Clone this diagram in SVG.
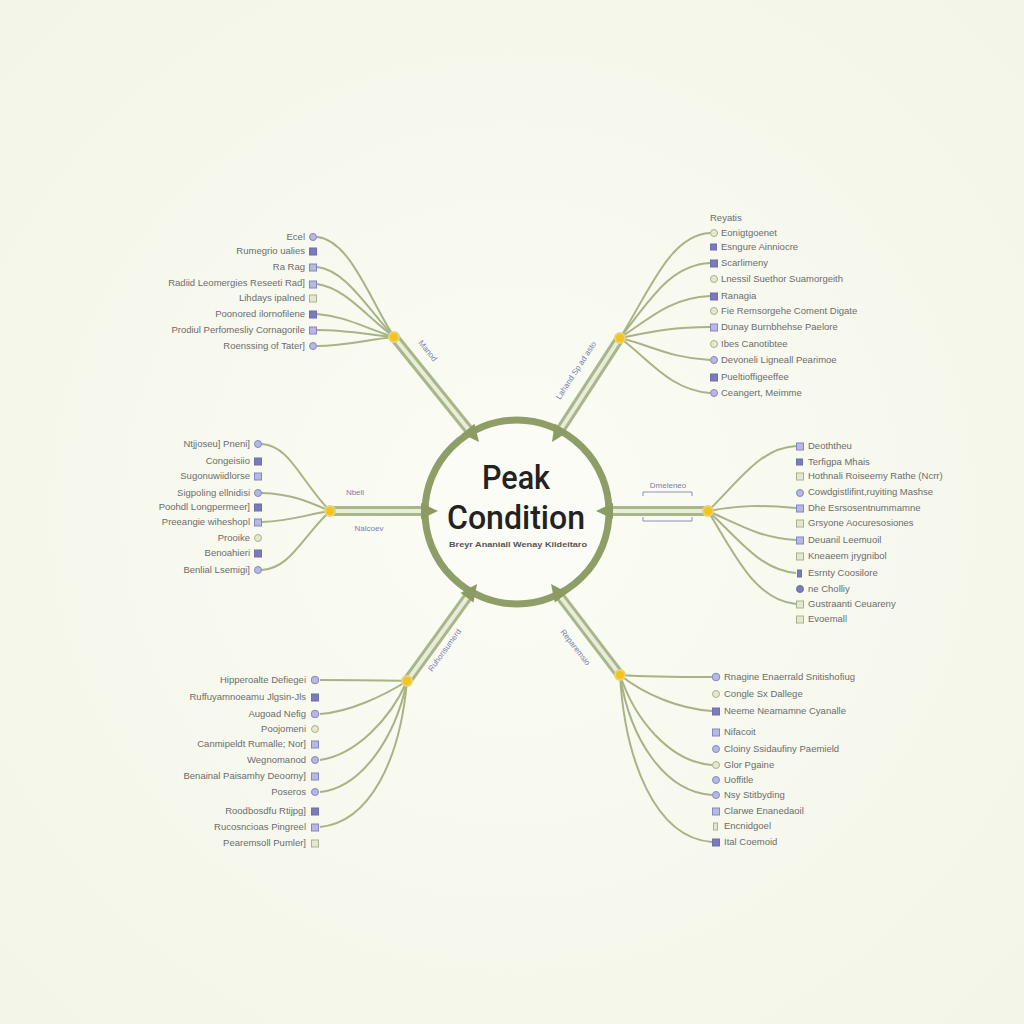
<svg xmlns="http://www.w3.org/2000/svg" xmlns:xlink="http://www.w3.org/1999/xlink" width="1024" height="1024" viewBox="0 0 1024 1024">
<defs>
<radialGradient id="bg" cx="50%" cy="50%" r="70%">
<stop offset="0" stop-color="#fbfcf4"/>
<stop offset="1" stop-color="#f3f5e8"/>
</radialGradient>
<polygon id="ah" points="0,0 -17,-8 -17,8" fill="#8c9b62"/>
</defs>
<style>
.leaf{font-family:"Liberation Sans",Arial,sans-serif;font-size:9.5px;fill:#6c6c6c}
.r{text-anchor:end}
.ic{fill:#b9b8e0;stroke:#8786c4;stroke-width:1}
.icd{fill:#7c7bb8;stroke:#6f6eae;stroke-width:1}
.icl{fill:#e4e8d0;stroke:#a9b38a;stroke-width:1}
.cv{fill:none;stroke:#a8b387;stroke-width:2}
.band{fill:none;stroke:#a9b689;stroke-width:10;stroke-linecap:butt}
.bandin{fill:none;stroke:#e8ecd8;stroke-width:4}
.hub{fill:#f2c51d;stroke:#e8d27a;stroke-width:2}
.sl{font-family:"Liberation Sans",Arial,sans-serif;font-size:8px;fill:#7a7fae}
</style>
<rect width="1024" height="1024" fill="url(#bg)"/>

<g id="connectors">
<path class="band" d="M394,337 L473,435"/><path class="bandin" d="M394,337 L473,435"/>
<path class="band" d="M620,338 L557,435"/><path class="bandin" d="M620,338 L557,435"/>
<path class="band" d="M330,511 L430,511"/><path class="bandin" d="M330,511 L430,511"/>
<path class="band" d="M708,511 L604,511"/><path class="bandin" d="M708,511 L604,511"/>
<path class="band" d="M407,681 L472,591"/><path class="bandin" d="M407,681 L472,591"/>
<path class="band" d="M620,675 L556,591"/><path class="bandin" d="M620,675 L556,591"/>
<path class="cv" d="M394,337 C370,300 350,240 317,237"/>
<path class="cv" d="M394,337 C365,305 345,270 317,267"/>
<path class="cv" d="M394,337 C365,315 345,288 317,284"/>
<path class="cv" d="M394,337 C365,328 345,316 317,314"/>
<path class="cv" d="M394,337 C365,334 345,330 317,330"/>
<path class="cv" d="M394,337 C365,340 345,346 317,346"/>
<path class="cv" d="M620,338 C650,290 670,235 710,233"/>
<path class="cv" d="M620,338 C650,300 670,265 710,263"/>
<path class="cv" d="M620,338 C650,318 670,298 710,296"/>
<path class="cv" d="M620,338 C650,332 670,327 710,327"/>
<path class="cv" d="M620,338 C650,345 670,358 710,360"/>
<path class="cv" d="M620,338 C650,360 670,390 710,393"/>
<path class="cv" d="M330,511 C300,480 290,446 262,444"/>
<path class="cv" d="M330,511 C305,500 290,494 262,493"/>
<path class="cv" d="M330,511 C305,515 290,521 262,522"/>
<path class="cv" d="M330,511 C300,540 290,568 262,570"/>
<path class="cv" d="M708,511 C740,480 760,448 796,446"/>
<path class="cv" d="M708,511 C740,505 760,505 796,508"/>
<path class="cv" d="M708,511 C740,525 760,538 796,540"/>
<path class="cv" d="M708,511 C740,540 760,570 796,573"/>
<path class="cv" d="M708,511 C735,555 755,600 796,604"/>
<path class="cv" d="M407,681 C380,680 345,680 320,680"/>
<path class="cv" d="M407,681 C385,695 350,712 320,714"/>
<path class="cv" d="M407,681 C390,720 355,755 320,760"/>
<path class="cv" d="M407,681 C395,740 360,788 320,792"/>
<path class="cv" d="M407,681 C400,760 370,822 320,827"/>
<path class="cv" d="M620,675 C650,677 680,677 712,677"/>
<path class="cv" d="M620,675 C645,695 680,709 712,711"/>
<path class="cv" d="M620,675 C635,720 670,762 712,765"/>
<path class="cv" d="M620,675 C630,740 665,792 712,795"/>
<path class="cv" d="M620,675 C625,760 655,838 712,842"/>
</g>

<g id="center">
<circle cx="517" cy="512" r="92" fill="#fbfcf5" stroke="#8f9e66" stroke-width="7"/>
<use xlink:href="#ah" transform="translate(479,442) rotate(51)"/>
<use xlink:href="#ah" transform="translate(552,442) rotate(123)"/>
<use xlink:href="#ah" transform="translate(438,511) rotate(0)"/>
<use xlink:href="#ah" transform="translate(596,511) rotate(180)"/>
<use xlink:href="#ah" transform="translate(477,584) rotate(-54)"/>
<use xlink:href="#ah" transform="translate(551,584) rotate(-127)"/>
<text x="516" y="489" text-anchor="middle" font-family="Roboto,'DejaVu Sans',sans-serif" font-weight="500" font-size="34" fill="#222" textLength="68" lengthAdjust="spacingAndGlyphs">Peak</text>
<text x="516" y="529" text-anchor="middle" font-family="Roboto,'DejaVu Sans',sans-serif" font-weight="500" font-size="34" fill="#222" textLength="138" lengthAdjust="spacingAndGlyphs">Condition</text>
<text x="518" y="547" text-anchor="middle" font-family="'Liberation Sans',Arial,sans-serif" font-weight="bold" font-size="8" fill="#555" textLength="138" lengthAdjust="spacingAndGlyphs">Breyr Ananiall Wenay Kildeitaro</text>
</g>

<g id="spoke-labels">
<text class="sl" transform="translate(418,343) rotate(51)">Manod</text>
<text class="sl" transform="translate(560,400) rotate(-57)">Lahand Sp ad asto</text>
<text class="sl" x="355" y="495" text-anchor="middle">Nbell</text>
<text class="sl" x="369" y="531" text-anchor="middle">Nalcoev</text>
<text class="sl" transform="translate(432,672) rotate(-54)">Ruhonsumerd</text>
<text class="sl" transform="translate(560,632) rotate(52)">Reparemsio</text>
<g id="bracket" fill="none" stroke="#8a8fb8" stroke-width="1">
<path d="M643,496 L643,492 L692,492 L692,496"/>
<path d="M643,517 L643,521 L692,521 L692,517"/>
</g>
<text class="sl" x="668" y="488" text-anchor="middle">Dmeleneo</text>
</g>

<g id="hubs">
<circle class="hub" cx="394" cy="337" r="5"/>
<circle class="hub" cx="620" cy="338" r="5"/>
<circle class="hub" cx="330" cy="511" r="5"/>
<circle class="hub" cx="708" cy="511" r="5"/>
<circle class="hub" cx="407" cy="681" r="5"/>
<circle class="hub" cx="620" cy="675" r="5"/>
</g>

<g id="cluster-tl">
<text class="leaf r" x="305" y="240">Ecel</text><circle class="ic" cx="313" cy="237" r="3.5"/>
<text class="leaf r" x="305" y="254">Rumegrio ualies</text><rect class="icd" x="309.5" y="248" width="7" height="7"/>
<text class="leaf r" x="305" y="270">Ra Rag</text><rect class="ic" x="309.5" y="264" width="7" height="7"/>
<text class="leaf r" x="305" y="286">Radiid Leomergies Reseeti Rad]</text><rect class="ic" x="309.5" y="281" width="7" height="7"/>
<text class="leaf r" x="305" y="301">Lihdays ipalned</text><rect class="icl" x="309.5" y="295" width="7" height="7"/>
<text class="leaf r" x="305" y="317">Poonored ilornofilene</text><rect class="icd" x="309.5" y="311" width="7" height="7"/>
<text class="leaf r" x="305" y="333">Prodiul Perfomesliy Cornagorile</text><rect class="ic" x="309.5" y="327" width="7" height="7"/>
<text class="leaf r" x="305" y="349">Roenssing of Tater]</text><circle class="ic" cx="313" cy="346" r="3.5"/>
</g>

<g id="cluster-tr">
<text class="leaf" x="710" y="221">Reyatis</text>
<circle class="icl" cx="714" cy="233" r="3.5"/><text class="leaf" x="721" y="236">Eonigtgoenet</text>
<rect class="icd" x="710.5" y="244" width="6" height="6"/><text class="leaf" x="721" y="250">Esngure Ainniocre</text>
<rect class="icd" x="710.5" y="260" width="7" height="7"/><text class="leaf" x="721" y="266">Scarlimeny</text>
<circle class="icl" cx="714" cy="279" r="3.5"/><text class="leaf" x="721" y="282">Lnessil Suethor Suamorgeith</text>
<rect class="icd" x="710.5" y="293" width="7" height="7"/><text class="leaf" x="721" y="299">Ranagia</text>
<circle class="icl" cx="714" cy="311" r="3.5"/><text class="leaf" x="721" y="314">Fie Remsorgehe Coment Digate</text>
<rect class="ic" x="710.5" y="324" width="7" height="7"/><text class="leaf" x="721" y="330">Dunay Burnbhehse Paelore</text>
<circle class="icl" cx="714" cy="344" r="3.5"/><text class="leaf" x="721" y="347">Ibes Canotibtee</text>
<circle class="ic" cx="714" cy="360" r="3.5"/><text class="leaf" x="721" y="363">Devoneli Ligneall Pearimoe</text>
<rect class="icd" x="710.5" y="374" width="7" height="7"/><text class="leaf" x="721" y="380">Pueltioffigeeffee</text>
<circle class="ic" cx="714" cy="393" r="3.5"/><text class="leaf" x="721" y="396">Ceangert, Meimme</text>
</g>

<g id="cluster-l">
<text class="leaf r" x="250" y="447">Ntjjoseu] Pneni]</text><circle class="ic" cx="258" cy="444" r="3.5"/>
<text class="leaf r" x="250" y="464">Congeisiio</text><rect class="icd" x="254.5" y="458" width="7" height="7"/>
<text class="leaf r" x="250" y="479">Sugonuwiidlorse</text><rect class="ic" x="254.5" y="473" width="7" height="7"/>
<text class="leaf r" x="250" y="496">Sigpoling ellnidisi</text><circle class="ic" cx="258" cy="493" r="3.5"/>
<text class="leaf r" x="250" y="510">Poohdl Longpermeer]</text><rect class="icd" x="254.5" y="504" width="7" height="7"/>
<text class="leaf r" x="250" y="525">Preeangie wiheshopl</text><rect class="ic" x="254.5" y="519" width="7" height="7"/>
<text class="leaf r" x="250" y="541">Prooike</text><circle class="icl" cx="258" cy="538" r="3.5"/>
<text class="leaf r" x="250" y="556">Benoahieri</text><rect class="icd" x="254.5" y="550" width="7" height="7"/>
<text class="leaf r" x="250" y="573">Benlial Lsemigi]</text><circle class="ic" cx="258" cy="570" r="3.5"/>
</g>

<g id="cluster-r">
<rect class="ic" x="796.5" y="443" width="7" height="7"/><text class="leaf" x="808" y="449">Deoththeu</text>
<rect class="icd" x="796.5" y="459" width="6" height="6"/><text class="leaf" x="808" y="465">Terfigpa Mhais</text>
<rect class="icl" x="796.5" y="473" width="7" height="7"/><text class="leaf" x="808" y="479">Hothnali Roiseemy Rathe (Ncrr)</text>
<circle class="ic" cx="800" cy="493" r="3.5"/><text class="leaf" x="808" y="495">Cowdgistlifint,ruyiting Mashse</text>
<rect class="ic" x="796.5" y="505" width="7" height="7"/><text class="leaf" x="808" y="511">Dhe Esrsosentnummamne</text>
<rect class="icl" x="796.5" y="520" width="7" height="7"/><text class="leaf" x="808" y="526">Grsyone Aocuresosiones</text>
<rect class="ic" x="796.5" y="537" width="7" height="7"/><text class="leaf" x="808" y="543">Deuanil Leemuoil</text>
<rect class="icl" x="796.5" y="553" width="7" height="7"/><text class="leaf" x="808" y="559">Kneaeem jrygnibol</text>
<rect class="icd" x="797.5" y="570" width="4" height="7"/><text class="leaf" x="808" y="576">Esrnty Coosilore</text>
<circle class="icd" cx="800" cy="589" r="3.5"/><text class="leaf" x="808" y="592">ne Cholliy</text>
<rect class="icl" x="796.5" y="601" width="7" height="7"/><text class="leaf" x="808" y="607">Gustraanti Ceuareny</text>
<rect class="icl" x="796.5" y="616" width="7" height="7"/><text class="leaf" x="808" y="622">Evoemall</text>
</g>

<g id="cluster-bl">
<text class="leaf r" x="306" y="683">Hipperoalte Defiegei</text><circle class="ic" cx="315" cy="680" r="3.8"/>
<text class="leaf r" x="306" y="700">Ruffuyamnoeamu Jlgsin-Jls</text><rect class="icd" x="311.5" y="694" width="7" height="7"/>
<text class="leaf r" x="306" y="717">Augoad Nefig</text><circle class="ic" cx="315" cy="714" r="3.8"/>
<text class="leaf r" x="306" y="732">Poojomeni</text><circle class="icl" cx="315" cy="729" r="3.5"/>
<text class="leaf r" x="306" y="747">Canmipeldt Rumalle; Nor]</text><rect class="ic" x="311.5" y="741" width="7" height="7"/>
<text class="leaf r" x="306" y="763">Wegnomanod</text><circle class="ic" cx="315" cy="760" r="3.5"/>
<text class="leaf r" x="306" y="779">Benainal Paisamhy Deoorny]</text><rect class="ic" x="311.5" y="773" width="7" height="7"/>
<text class="leaf r" x="306" y="795">Poseros</text><circle class="ic" cx="315" cy="792" r="3.5"/>
<text class="leaf r" x="306" y="814">Roodbosdfu Rtijpg]</text><rect class="icd" x="311.5" y="808" width="7" height="7"/>
<text class="leaf r" x="306" y="830">Rucosncioas Pingreel</text><rect class="ic" x="311.5" y="824" width="7" height="7"/>
<text class="leaf r" x="306" y="846">Pearemsoll Pumler]</text><rect class="icl" x="311.5" y="840" width="7" height="7"/>
</g>

<g id="cluster-br">
<circle class="ic" cx="716" cy="677" r="3.8"/><text class="leaf" x="724" y="680">Rnagine Enaerrald Snitishofiug</text>
<circle class="icl" cx="716" cy="694" r="3.5"/><text class="leaf" x="724" y="697">Congle Sx Dallege</text>
<rect class="icd" x="712.5" y="708" width="7" height="7"/><text class="leaf" x="724" y="714">Neeme Neamamne Cyanalle</text>
<rect class="ic" x="712.5" y="729" width="7" height="7"/><text class="leaf" x="724" y="735">Nifacoit</text>
<circle class="ic" cx="716" cy="749" r="3.5"/><text class="leaf" x="724" y="752">Cloiny Ssidaufiny Paemield</text>
<circle class="icl" cx="716" cy="765" r="3.5"/><text class="leaf" x="724" y="768">Glor Pgaine</text>
<circle class="ic" cx="716" cy="780" r="3.5"/><text class="leaf" x="724" y="783">Uoffitle</text>
<circle class="ic" cx="716" cy="795" r="3.5"/><text class="leaf" x="724" y="798">Nsy Stitbyding</text>
<rect class="ic" x="712.5" y="808" width="7" height="7"/><text class="leaf" x="724" y="814">Clarwe Enanedaoil</text>
<rect class="icl" x="713.5" y="823" width="4" height="7"/><text class="leaf" x="724" y="829">Encnidgoel</text>
<rect class="icd" x="712.5" y="839" width="7" height="7"/><text class="leaf" x="724" y="845">Ital Coemoid</text>
</g>
</svg>
